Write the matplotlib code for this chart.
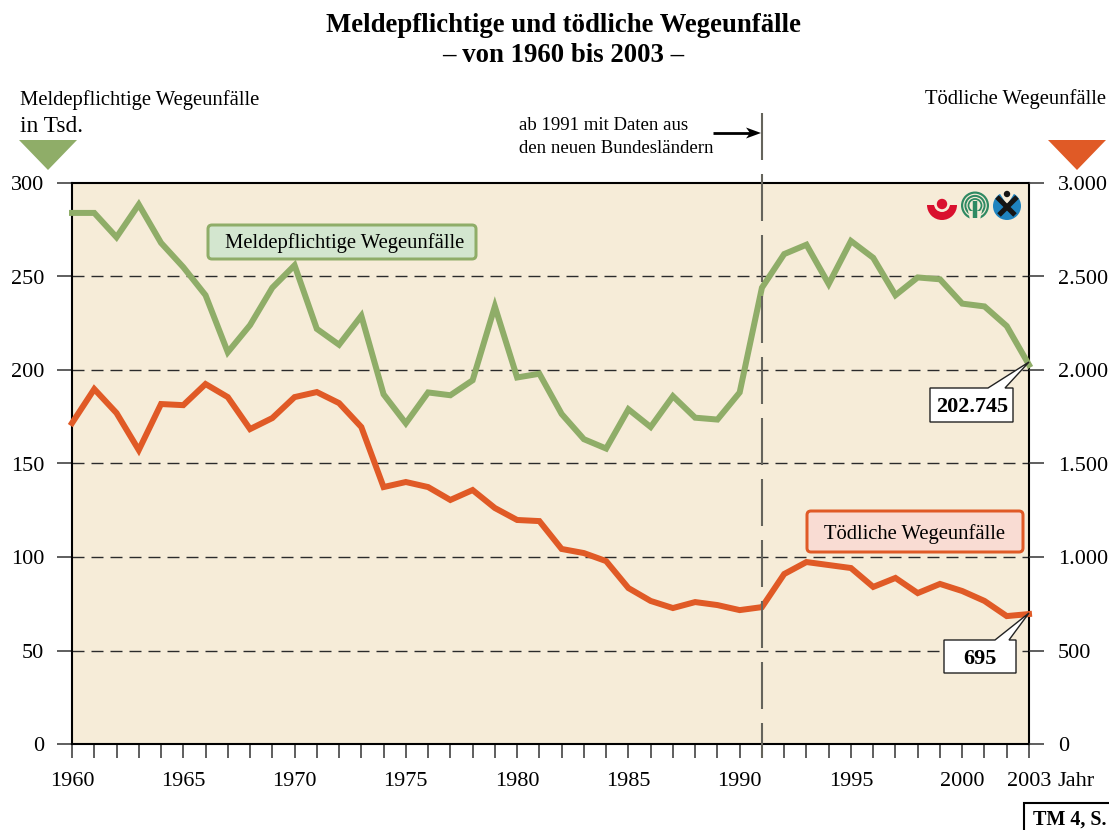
import matplotlib
matplotlib.use("Agg")
import matplotlib.pyplot as plt
from matplotlib.patches import FancyBboxPatch, Polygon, Circle, Wedge, Rectangle

plt.rcParams['font.family'] = ['Liberation Serif', 'DejaVu Serif']
plt.rcParams['lines.scale_dashes'] = False

years = list(range(1960, 2004))
meldepflichtig = [284, 284, 271, 288.5, 268, 255, 240, 209.5, 224, 244,
                  256, 222, 213.5, 229, 187, 171.5, 188, 186.5, 194.5, 234,
                  196, 198, 176.5, 163, 158, 179, 169.5, 186, 174.5, 173.5,
                  188, 244, 262, 267, 246, 269, 260, 240, 249.5, 248.5,
                  235.5, 234, 223.5, 202.745]
toedlich = [1716, 1898, 1770, 1572, 1818, 1812, 1925, 1855, 1684, 1743,
            1855, 1882, 1823, 1695, 1374, 1401, 1374, 1305, 1358, 1262,
            1198, 1192, 1043, 1021, 978, 834, 765, 727, 759, 743,
            716, 732, 909, 973, 957, 941, 840, 888, 807, 856,
            818, 765, 684, 695]
left_ticks = [0, 50, 100, 150, 200, 250, 300]
right_ticks = [0, 500, 1000, 1500, 2000, 2500, 3000]
right_labels = ['0', '500', '1.000', '1.500', '2.000', '2.500', '3.000']
year_labels = [1960, 1965, 1970, 1975, 1980, 1985, 1990, 1995, 2000, 2003]

GREEN = '#8fad68'
RED = '#e05a26'
BG = '#f6ecd8'
W, H = 1109, 830
PX = 0.72

fig = plt.figure(figsize=(W / 100, H / 100), dpi=100, facecolor='white')
ax = fig.add_axes([72 / W, 1 - 744 / H, (1029 - 72) / W, (744 - 183) / H])
ax.set_facecolor(BG)
ax.set_xlim(1960, 2003)
ax.set_ylim(0, 300)
for s in ax.spines.values():
    s.set_linewidth(1.5)
    s.set_color('black')

for v in left_ticks[1:-1]:
    ax.axhline(v, color='#2b2b2b', lw=1.0, dashes=(12 * PX, 7 * PX), zorder=1)

ax.set_yticks(left_ticks)
ax.set_yticklabels([str(v) for v in left_ticks])
ax.set_xticks(years)
ax.set_xticklabels([str(y) if y in year_labels else '' for y in years])
ax.tick_params(axis='y', length=15 * PX, width=1.1, labelsize=16, pad=13 * PX, color='#333333')
ax.tick_params(axis='x', length=14 * PX, width=1.1, labelsize=16, pad=14 * PX, color='#333333')

ax.plot(years, meldepflichtig, color=GREEN, lw=6 * PX, solid_joinstyle='miter',
        solid_capstyle='projecting', clip_on=False, zorder=3)

axr = ax.twinx()
axr.set_ylim(0, 3000)
axr.set_yticks(right_ticks)
axr.set_yticklabels(right_labels)
axr.tick_params(axis='y', length=15 * PX, width=1.1, labelsize=16, pad=14 * PX, color='#333333')
for s in axr.spines.values():
    s.set_visible(False)
axr.plot(years, toedlich, color=RED, lw=6 * PX, solid_joinstyle='miter',
         solid_capstyle='projecting', clip_on=False, zorder=3)

# overlay in pixel coordinates for annotations and decoration
ov = fig.add_axes([0, 0, 1, 1], facecolor='none')
ov.set_xlim(0, W)
ov.set_ylim(H, 0)
ov.axis('off')

ov.plot([762, 762], [113, 758], color='#65645c', lw=1.5, dashes=(47 * PX, 14 * PX), zorder=2)

ov.text(563, 26, 'Meldepflichtige und tödliche Wegeunfälle', ha='center', va='center',
        fontsize=19.3, fontweight='bold')
ov.text(563, 56, '– von 1960 bis 2003 –', ha='center', va='center', fontsize=19.3, fontweight='bold')
ov.text(20, 100, 'Meldepflichtige Wegeunfälle', ha='left', va='center', fontsize=14.85)
ov.text(20, 127, 'in Tsd.', ha='left', va='center', fontsize=16.8)
ov.text(1106, 99, 'Tödliche Wegeunfälle', ha='right', va='center', fontsize=14.85)
ov.add_patch(Polygon([(19, 140), (77, 140), (48, 170)], fc=GREEN, ec='none'))
ov.add_patch(Polygon([(1048, 140), (1106, 140), (1077, 170)], fc=RED, ec='none'))

ov.text(519, 126, 'ab 1991 mit Daten aus', ha='left', va='center', fontsize=13.5)
ov.text(519, 148.5, 'den neuen Bundesländern', ha='left', va='center', fontsize=13.5)
ov.plot([713, 750], [133, 133], color='black', lw=2.0, solid_capstyle='butt', zorder=3)
ov.add_patch(Polygon([(761, 133), (746, 127.5), (750, 133), (746, 138.5)], fc='black', ec='none', zorder=3))

ov.text(1058, 781, 'Jahr', ha='left', va='center', fontsize=16)


def label_box(x0, y0, x1, y1, fc, ec, text, dx, dy):
    ov.add_patch(FancyBboxPatch((x0 + 4, y0 + 4), x1 - x0 - 8, y1 - y0 - 8,
                                boxstyle='round,pad=4,rounding_size=4', fc=fc, ec=ec,
                                lw=3 * PX, zorder=4, mutation_aspect=1))
    ov.text((x0 + x1) / 2 + dx, (y0 + y1) / 2 + dy, text, ha='center', va='center',
            fontsize=14.85, zorder=5)


label_box(208, 225, 476, 259, '#d3e6cf', GREEN, 'Meldepflichtige Wegeunfälle', 3, 1)
label_box(807, 511, 1023, 552, '#f9dcd3', RED, 'Tödliche Wegeunfälle', 0, 3)


def callout(x0, y0, x1, y1, b0, b1, tip, text, dx):
    pts = [(x0, y0), (b0, y0), tip, (b1, y0), (x1, y0), (x1, y1), (x0, y1)]
    ov.add_patch(Polygon(pts, closed=True, fc='white', ec='#222222', lw=1.0, zorder=6))
    ov.text((x0 + x1) / 2 + dx, (y0 + y1) / 2 + 2, text, ha='center', va='center', fontsize=16,
            fontweight='bold', zorder=7)


callout(930, 388, 1013, 422, 988, 1005, (1029, 362), '202.745', 1)
callout(944, 640, 1016, 673, 995, 1009, (1029, 613), '695', 0)

# logos
LOGO_Y = 205
ov.add_patch(Wedge((942, LOGO_Y), 15, 0, 180, fc='#d9102e', ec='none', zorder=2))
ov.add_patch(Wedge((942, LOGO_Y - 1), 8, 0, 180, fc=BG, ec='none', zorder=2))
ov.add_patch(Circle((942, LOGO_Y - 1), 5.2, fc='#d9102e', ec='none', zorder=2))

DG = '#2f8a63'
for r, c in [(14, DG), (11.8, BG), (10.6, DG), (8.6, BG), (7.4, DG), (5.6, BG)]:
    ov.add_patch(Circle((975, LOGO_Y + 0.5), r, fc=c, ec='none', zorder=2))
ov.add_patch(Polygon([(968, LOGO_Y + 6), (982, LOGO_Y + 6), (980, LOGO_Y + 15), (970, LOGO_Y + 15)],
                     fc=BG, ec='none', zorder=2))
ov.plot([975, 975], [LOGO_Y - 4, LOGO_Y + 13], color=DG, lw=3.2, zorder=2, solid_capstyle='butt')

ov.add_patch(Circle((1007, LOGO_Y + 1), 14, fc='#1f83bf', ec='none', zorder=2))
ov.add_patch(Polygon([(997, LOGO_Y - 16), (1017, LOGO_Y - 16), (1007, LOGO_Y)], fc=BG, ec='none', zorder=2))
ov.plot([997, 1015], [LOGO_Y - 8, LOGO_Y + 10], color='#151515', lw=3.6, zorder=3, solid_capstyle='butt')
ov.plot([1017, 999], [LOGO_Y - 8, LOGO_Y + 10], color='#151515', lw=3.6, zorder=3, solid_capstyle='butt')
ov.add_patch(Circle((1007, LOGO_Y - 11), 3.2, fc='#151515', ec='none', zorder=3))

# source tag, cut by the right edge as in the reference
ov.add_patch(Rectangle((1024, 803), 100, 40, fc='white', ec='black', lw=1.5, clip_on=True, zorder=6))
ov.text(1033, 820, 'TM 4, S.', ha='left', va='center', fontsize=14.5, fontweight='bold', zorder=7)

fig.savefig('out.png', dpi=100)
